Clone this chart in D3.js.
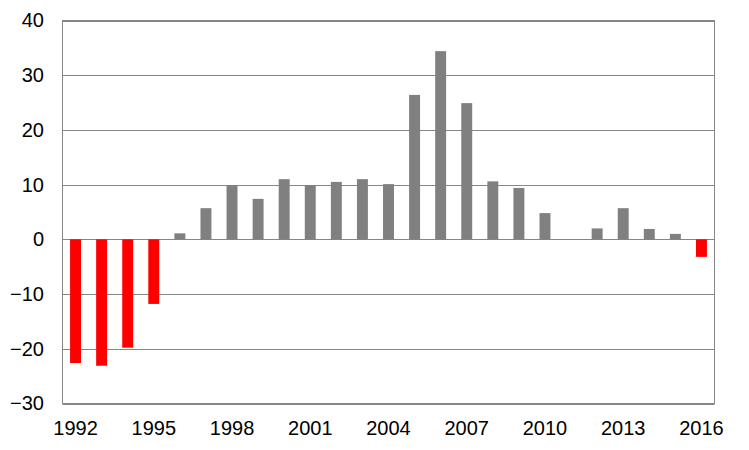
<!DOCTYPE html>
<html><head><meta charset="utf-8">
<script src="https://cdn.jsdelivr.net/npm/d3@7"></script>
<style>body{margin:0;background:#fff}svg{display:block}text{font-family:"Liberation Sans",Arial,sans-serif}</style>
</head><body><svg id="c" width="749" height="450"></svg>
<script>
const years = d3.range(1992, 2017);
const values = [-22.6,-23.1,-19.8,-11.8,1.1,5.7,9.9,7.4,11.0,9.9,10.5,11.0,10.1,26.4,34.4,24.9,10.6,9.4,4.8,0,2.0,5.7,1.9,1.0,-3.2];
const redYears = [1992,1993,1994,1995,2016];
const xTickLabels = [1992,1995,1998,2001,2004,2007,2010,2013,2016];
const yTicks = [-30,-20,-10,0,10,20,30,40];

const svg = d3.select("#c");
const L = 62.5, R = 714.5, T = 20.5, B = 403.5;
const x = d3.scaleBand().domain(years).range([L, R]).paddingInner(0.58).paddingOuter(0.29);
const y = d3.scaleLinear().domain([-30, 40]).range([B, T]);

// grid
svg.append("g").selectAll("line").data(yTicks).join("line")
  .attr("x1", L).attr("x2", R)
  .attr("y1", d => Math.round(y(d)) + 0.5).attr("y2", d => Math.round(y(d)) + 0.5)
  .attr("stroke", "#868686").attr("stroke-width", 1);
svg.append("rect").attr("x", L).attr("y", T).attr("width", R - L).attr("height", B - T)
  .attr("fill", "none").attr("stroke", "#868686");

// bars
const data = years.map((yr, i) => ({yr, v: values[i]}));
svg.append("g").selectAll("rect").data(data.filter(d => d.v !== 0)).join("rect")
  .attr("x", d => x(d.yr))
  .attr("width", x.bandwidth())
  .attr("y", d => y(Math.max(0, d.v)))
  .attr("height", d => Math.abs(y(d.v) - y(0)))
  .attr("fill", d => redYears.includes(d.yr) ? "#ff0000" : "#808080");

// y axis
const yAxis = d3.axisLeft(y).tickValues(yTicks).tickSize(0).tickPadding(0);
const gy = svg.append("g").attr("transform", `translate(${L - 18.5},0)`).call(yAxis);
gy.select(".domain").remove();
gy.selectAll("text").attr("font-size", 20).attr("fill", "#000").attr("font-family", '"Liberation Sans",Arial,sans-serif');

// x axis
const xAxis = d3.axisBottom(x).tickValues(xTickLabels).tickSize(0).tickPadding(0);
const gx = svg.append("g").attr("transform", `translate(0,${B + 17})`).call(xAxis);
gx.select(".domain").remove();
gx.selectAll("text").attr("font-size", 20).attr("fill", "#000").attr("font-family", '"Liberation Sans",Arial,sans-serif');
</script></body></html>
